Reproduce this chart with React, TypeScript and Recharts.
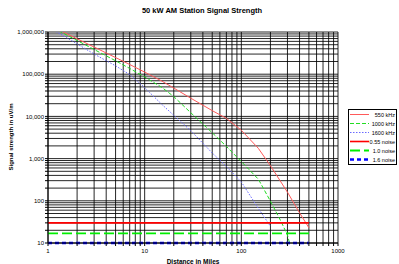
import React from "react";
import { LineChart, Line, XAxis, YAxis, CartesianGrid } from "recharts";

// ---- data ----
const distances550 = [1, 2, 3, 5, 7, 10, 15, 20, 30, 50, 70, 100, 150, 200, 300, 400, 500];
const signal550 = [1500000, 690000, 440000, 248000, 170000, 112000, 69000, 47000, 27000, 13700, 9000, 4700, 1750, 680, 160, 52, 23];

const distances1000 = [1, 2, 3, 5, 7, 10, 15, 20, 30, 50, 70, 100, 150, 200, 250, 300, 320];
const signal1000 = [1450000, 630000, 385000, 208000, 137000, 86000, 49000, 29500, 12200, 4100, 1950, 850, 325, 98, 37, 15.5, 8.7];

const distances1600 = [1, 2, 3, 5, 7, 10, 15, 20, 30, 50, 70, 100, 150, 200];
const signal1600 = [1320000, 525000, 300000, 158000, 98000, 48000, 19400, 10600, 4600, 1360, 650, 280, 66, 25];

const noiseDistances = [1, 500];
const noise055 = [30, 30];
const noise10 = [17, 17];
const noise16 = [10, 10];

const xTicks = [1, 2, 3, 4, 5, 6, 7, 8, 9, 10, 20, 30, 40, 50, 60, 70, 80, 90, 100, 200, 300, 400, 500, 600, 700, 800, 900, 1000];
const xLabels = [1, 10, 100, 1000];
const yTicks = [
  10, 20, 30, 40, 50, 60, 70, 80, 90,
  100, 200, 300, 400, 500, 600, 700, 800, 900,
  1000, 2000, 3000, 4000, 5000, 6000, 7000, 8000, 9000,
  10000, 20000, 30000, 40000, 50000, 60000, 70000, 80000, 90000,
  100000, 200000, 300000, 400000, 500000, 600000, 700000, 800000, 900000,
  1000000,
];
const yLabels = [10, 100, 1000, 10000, 100000, 1000000];

const title = "50 kW AM Station Signal Strength";
const xTitle = "Distance in Miles";
const yTitle = "Signal strength in uV/m";

const zip = (xs: number[], ys: number[]) => xs.map((x, i) => ({ x, y: ys[i] }));

type S = { name: string; data: { x: number; y: number }[]; stroke: string; width: number; dash?: string; noise: boolean };

const series: S[] = [
  { name: "550 kHz", data: zip(distances550, signal550), stroke: "#ff5a5a", width: 1, noise: false },
  { name: "1000 kHz", data: zip(distances1000, signal1000), stroke: "#22dd22", width: 1, dash: "4 2", noise: false },
  { name: "1600 kHz", data: zip(distances1600, signal1600), stroke: "#6a6aff", width: 1, dash: "1.5 1.5", noise: false },
  { name: "0.55 noise", data: zip(noiseDistances, noise055), stroke: "#ff0000", width: 1.6, noise: true },
  { name: "1.0 noise", data: zip(noiseDistances, noise10), stroke: "#00ee00", width: 1.8, dash: "10 4", noise: true },
  { name: "1.6 noise", data: zip(noiseDistances, noise16), stroke: "#0000ff", width: 2.5, dash: "4 3", noise: true },
];

const FONT = "'Liberation Sans', Arial, sans-serif";

export default function App() {
  return (
    <div style={{ position: "absolute", left: 0, top: 0, width: 399, height: 264, background: "#fff", fontFamily: FONT }}>
      <LineChart width={399} height={264} margin={{ top: 32, right: 61, bottom: 0, left: 0 }}>
        <CartesianGrid stroke="#000" strokeOpacity={0.85} strokeWidth={1} />
        <XAxis
          dataKey="x"
          type="number"
          scale="log"
          domain={[1, 1000]}
          ticks={xTicks}
          interval={0}
          allowDataOverflow
          height={21}
          tickSize={3}
          tickMargin={3}
          stroke="#000"
          tick={{ fontSize: 6, fill: "#000", fontFamily: FONT }}
          tickFormatter={(v: number) => (xLabels.includes(v) ? String(v) : "")}
        />
        <YAxis
          type="number"
          scale="log"
          domain={[10, 1000000]}
          ticks={yTicks}
          interval={0}
          allowDataOverflow
          width={48}
          tickSize={3}
          tickMargin={1}
          stroke="#000"
          tick={{ fontSize: 6, fill: "#000", fontFamily: FONT }}
          tickFormatter={(v: number) => (yLabels.includes(v) ? v.toLocaleString("en-US") : "")}
        />
        <XAxis xAxisId="n" dataKey="x" type="number" scale="log" domain={[1, 1000]} hide />
        <YAxis yAxisId="n" type="number" scale="log" domain={[10, 1000000]} hide />
        {series.map((s) => (
          <Line
            key={s.name}
            data={s.data}
            dataKey="y"
            name={s.name}
            xAxisId={s.noise ? "n" : 0}
            yAxisId={s.noise ? "n" : 0}
            type="linear"
            stroke={s.stroke}
            strokeWidth={s.width}
            strokeDasharray={s.dash}
            dot={false}
            activeDot={false}
            isAnimationActive={false}
          />
        ))}
      </LineChart>
      <svg width={399} height={264} style={{ position: "absolute", left: 0, top: 0, pointerEvents: "none" }}>
        <text x={202} y={13} textAnchor="middle" fontSize={7.5} fontWeight="bold" fontFamily={FONT} fill="#000">
          {title}
        </text>
        <text
          x={11}
          y={137}
          transform="rotate(-90, 11, 137)"
          textAnchor="middle"
          dominantBaseline="central"
          fontSize={6}
          fontWeight="bold"
          fontFamily={FONT}
          fill="#000"
        >
          {yTitle}
        </text>
        <text x={193} y={263.5} textAnchor="middle" fontSize={6.5} fontWeight="bold" fontFamily={FONT} fill="#000">
          {xTitle}
        </text>
        <rect x={348.5} y={109.5} width={48} height={55} fill="#fff" stroke="#000" strokeWidth={1} />
        {series.map((s, i) => {
          const cy = 114.5 + i * 9;
          return (
            <g key={s.name}>
              <line x1={350} x2={369} y1={cy} y2={cy} stroke={s.stroke} strokeWidth={s.width} strokeDasharray={s.dash} />
              <text x={395} y={cy} textAnchor="end" dominantBaseline="central" fontSize={5.5} fontFamily={FONT} fill="#000">
                {s.name}
              </text>
            </g>
          );
        })}
      </svg>
    </div>
  );
}
